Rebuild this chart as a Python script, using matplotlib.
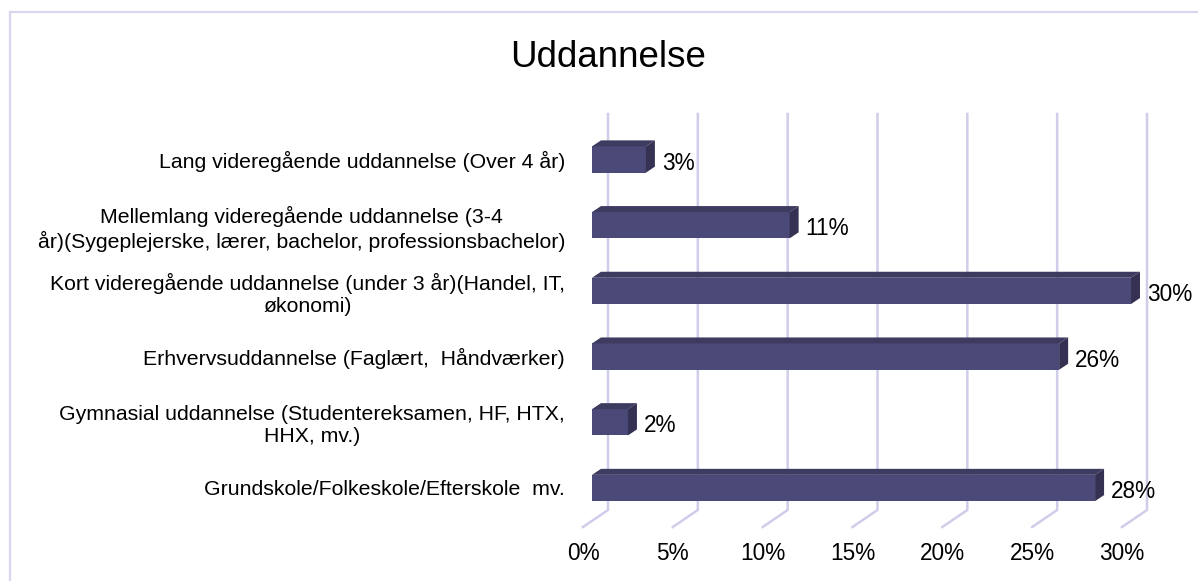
import numpy as np
import matplotlib.pyplot as plt
from matplotlib.patches import Polygon, Rectangle
from matplotlib.lines import Line2D
from matplotlib.transforms import IdentityTransform

plt.rcParams['font.family'] = ['Liberation Sans', 'DejaVu Sans']

# Data
categories = [
    'Lang videregående uddannelse (Over 4 år)',
    'Mellemlang videregående uddannelse (3-4\når)(Sygeplejerske, lærer, bachelor, professionsbachelor)',
    'Kort videregående uddannelse (under 3 år)(Handel, IT,\nøkonomi)',
    'Erhvervsuddannelse (Faglært,  Håndværker)',
    'Gymnasial uddannelse (Studentereksamen, HF, HTX,\nHHX, mv.)',
    'Grundskole/Folkeskole/Efterskole  mv.',
]
values = [3, 11, 30, 26, 2, 28]
value_labels = ['3%', '11%', '30%', '26%', '2%', '28%']
xticks = [0, 5, 10, 15, 20, 25, 30]
xtick_labels = ['0%', '5%', '10%', '15%', '20%', '25%', '30%']

# Colours
c_front = '#4b4978'
c_top = '#3e3b60'
c_side = '#343152'
c_grid = '#cfcdea'
c_frame = '#d9d7f0'

W, H = 1198, 581
fig = plt.figure(figsize=(W / 100, H / 100), dpi=100)
fig.patch.set_facecolor('white')

# outer frame (only left and top visible)
fig.add_artist(Rectangle((10 / W, -0.5), 2, 1.5 - 12 / H, transform=fig.transFigure,
                         fill=False, edgecolor=c_frame, linewidth=1.6, zorder=-2))

ax = fig.add_axes([592 / W, (H - 527) / H, 539 / W, (527 - 131) / H])
ax.patch.set_visible(False)
ax.set_xlim(0, 30)
ybot, ytop = 5.594, -0.434
ax.set_ylim(ybot, ytop)
for s in ax.spines.values():
    s.set_visible(False)

ypos = np.arange(len(categories))
bar_h = 0.4
depth = np.array([9, 6])          # bar depth in pixels
back = np.array([16, 17])         # back wall offset
front = np.array([-9, 0])         # floor front edge offset

to_px = ax.transData.transform

# gridlines on back wall + floor (behind the axes content)
for v in xticks:
    b = to_px((v, ybot))
    t = to_px((v, ytop))
    pts = np.array([b + front, b + back, t + back])
    fig.add_artist(Line2D(pts[:, 0], pts[:, 1], transform=IdentityTransform(),
                          color=c_grid, linewidth=1.8, zorder=-1))

# bars
ax.barh(ypos, values, height=bar_h, color=c_front, zorder=3)
for y, v, lab in zip(ypos, values, value_labels):
    A = to_px((0, y - bar_h / 2))
    B = to_px((v, y - bar_h / 2))
    E = to_px((v, y + bar_h / 2))
    top = Polygon([A, B, B + depth, A + depth], closed=True, transform=IdentityTransform(),
                  facecolor=c_top, edgecolor='none', zorder=3)
    side = Polygon([B, E, E + depth, B + depth], closed=True, transform=IdentityTransform(),
                   facecolor=c_side, edgecolor='none', zorder=3)
    fig.add_artist(top)
    fig.add_artist(side)
    ax.annotate(lab, (v, y), xytext=(16, -10), textcoords='offset pixels',
                ha='left', va='baseline', fontsize=16.3, annotation_clip=False)

# category labels
ax.set_yticks(ypos, categories, fontsize=15.3)
ax.tick_params(axis='y', length=0, pad=19.4)
for t in ax.get_yticklabels():
    t.set_multialignment('center')

# x tick labels at floor front edge
ax.set_xticks([])
for v, lab in zip(xticks, xtick_labels):
    ax.annotate(lab, (v, ybot), xytext=(-9, -33), textcoords='offset pixels',
                ha='center', va='baseline', fontsize=16.3, annotation_clip=False)

fig.text(608 / W, 1 - 67 / H, 'Uddannelse', ha='center', va='baseline', fontsize=26.5)

fig.savefig('out.png', dpi=100)
